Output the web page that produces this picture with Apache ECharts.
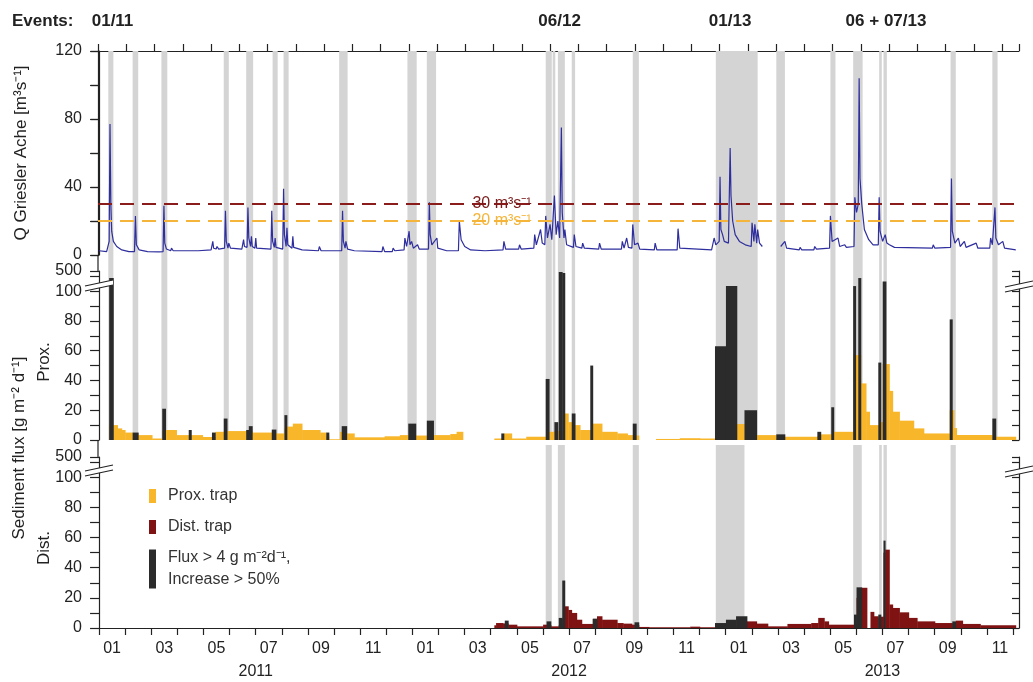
<!DOCTYPE html>
<html>
<head>
<meta charset="utf-8">
<script src="https://cdn.jsdelivr.net/npm/echarts@6.0.0/dist/echarts.min.js"></script>
<style>
html, body { margin: 0; padding: 0; background: #fff; }
#chart { width: 1033px; height: 682px; }
</style>
</head>
<body>
<div id="chart"></div>
<script>
var FONT = '"Liberation Sans", Arial, sans-serif';
var INK = '#222';
var BAND = '#d4d4d4';
var BLUE = '#2e2e9e';
var YELLOW = '#f8b62b';
var DRED = '#7f1212';
var BLACK = '#2b2b2b';
var FLUX_NAME = 'Flux > 4 g m\u207B\u00B2d\u207B\u00B9,\nIncrease > 50%';

// grey event periods (Q and Prox. panels)
var bandStart = ['2011-01-12', '2011-02-09', '2011-03-13', '2011-05-25', '2011-06-20', '2011-07-21', '2011-08-03', '2011-10-07',
    '2011-12-26', '2012-01-18', '2012-06-04', '2012-06-12', '2012-06-18', '2012-07-04', '2012-09-14', '2012-12-20',
    '2013-02-27', '2013-05-01', '2013-05-28', '2013-06-27', '2013-07-02', '2013-09-19', '2013-11-07'];
var bandEnd = ['2011-01-18', '2011-02-15', '2011-03-20', '2011-05-31', '2011-06-28', '2011-07-27', '2011-08-09', '2011-10-17',
    '2012-01-06', '2012-01-29', '2012-06-11', '2012-06-15', '2012-06-26', '2012-07-08', '2012-09-21', '2013-02-07',
    '2013-03-09', '2013-05-07', '2013-06-08', '2013-06-30', '2013-07-06', '2013-09-25', '2013-11-13'];
// grey event periods (Dist. panel)
var distBandStart = ['2012-06-04', '2012-06-18', '2012-09-14', '2012-12-20', '2013-05-28', '2013-06-27', '2013-07-02', '2013-09-19'];
var distBandEnd = ['2012-06-11', '2012-06-26', '2012-09-21', '2013-01-23', '2013-06-07', '2013-06-30', '2013-07-06', '2013-09-25'];

// discharge Griesler Ache [m3/s]
var qDates = ['2011-01-01', '2011-01-10', '2011-01-13', '2011-01-14', '2011-01-15', '2011-01-16', '2011-01-18', '2011-01-22', '2011-01-28',
    '2011-02-05', '2011-02-11', '2011-02-12', '2011-02-13', '2011-02-16', '2011-02-25', '2011-03-10', '2011-03-15', '2011-03-16',
    '2011-03-17', '2011-03-19', '2011-03-24', '2011-03-25', '2011-03-27', '2011-04-03', '2011-04-04', '2011-04-06', '2011-04-25',
    '2011-05-10', '2011-05-12', '2011-05-13', '2011-05-16', '2011-05-17', '2011-05-19', '2011-05-26', '2011-05-27', '2011-05-28',
    '2011-05-30', '2011-05-31', '2011-06-02', '2011-06-15', '2011-06-17', '2011-06-18', '2011-06-21', '2011-06-22', '2011-06-23',
    '2011-06-25', '2011-06-26', '2011-06-27', '2011-06-30', '2011-07-01', '2011-07-02', '2011-07-19', '2011-07-20', '2011-07-21',
    '2011-07-23', '2011-07-24', '2011-07-25', '2011-08-02', '2011-08-03', '2011-08-04', '2011-08-06', '2011-08-07', '2011-08-08',
    '2011-08-13', '2011-08-14', '2011-08-15', '2011-08-25', '2011-09-13', '2011-09-14', '2011-09-16', '2011-10-10', '2011-10-11',
    '2011-10-12', '2011-10-14', '2011-10-15', '2011-10-17', '2011-10-25', '2011-11-26', '2011-11-27', '2011-11-29', '2011-12-08',
    '2011-12-09', '2011-12-11', '2011-12-22', '2011-12-23', '2011-12-25', '2011-12-28', '2011-12-29', '2011-12-31', '2012-01-02',
    '2012-01-07', '2012-01-09', '2012-01-20', '2012-01-21', '2012-01-22', '2012-01-24', '2012-01-30', '2012-01-31', '2012-02-10',
    '2012-02-23', '2012-02-24', '2012-02-26', '2012-03-01', '2012-03-08', '2012-03-25', '2012-04-15', '2012-04-16', '2012-04-18',
    '2012-05-03', '2012-05-04', '2012-05-06', '2012-05-21', '2012-05-22', '2012-05-24', '2012-05-29', '2012-05-31', '2012-06-03',
    '2012-06-04', '2012-06-06', '2012-06-09', '2012-06-11', '2012-06-14', '2012-06-16', '2012-06-18', '2012-06-20', '2012-06-22',
    '2012-06-23', '2012-06-25', '2012-06-26', '2012-06-28', '2012-07-06', '2012-07-07', '2012-07-09', '2012-07-16', '2012-07-17',
    '2012-07-19', '2012-08-05', '2012-08-06', '2012-08-08', '2012-09-01', '2012-09-02', '2012-09-04', '2012-09-07', '2012-09-09',
    '2012-09-13', '2012-09-14', '2012-09-16', '2012-09-20', '2012-09-22', '2012-10-09', '2012-10-10', '2012-10-12', '2012-11-05',
    '2012-11-06', '2012-11-08', '2012-12-15', '2012-12-18', '2012-12-20', '2012-12-24', '2012-12-25', '2012-12-26', '2012-12-28',
    '2012-12-30', '2013-01-04', '2013-01-06', '2013-01-07', '2013-01-09', '2013-01-12', '2013-01-17', '2013-01-24', '2013-01-31',
    '2013-02-01', '2013-02-03', '2013-02-04', '2013-02-06', '2013-02-07', '2013-02-09', '2013-02-12', '2013-02-13', '2013-03-04',
    '2013-03-06', '2013-03-09', '2013-03-11', '2013-03-26', '2013-03-27', '2013-03-29', '2013-04-12', '2013-04-13', '2013-04-15',
    '2013-04-30', '2013-05-01', '2013-05-03', '2013-05-10', '2013-05-12', '2013-05-18', '2013-05-20', '2013-05-29', '2013-05-30',
    '2013-06-01', '2013-06-03', '2013-06-04', '2013-06-05', '2013-06-07', '2013-06-10', '2013-06-15', '2013-06-20', '2013-06-26',
    '2013-06-27', '2013-06-28', '2013-06-29', '2013-07-01', '2013-07-04', '2013-07-06', '2013-07-09', '2013-07-15', '2013-08-29',
    '2013-08-30', '2013-09-01', '2013-09-19', '2013-09-20', '2013-09-21', '2013-09-24', '2013-09-28', '2013-09-30', '2013-10-05',
    '2013-10-07', '2013-10-19', '2013-10-21', '2013-11-04', '2013-11-05', '2013-11-07', '2013-11-10', '2013-11-11', '2013-11-14',
    '2013-11-19', '2013-11-21', '2013-12-04'];
var qValues = [2.5, 2, 8, 77, 30, 14, 8, 5, 3,
    2, 2, 23, 6, 3, 2, 1.8, 2, 29,
    7, 3.5, 2.5, 4, 2.5, 2.5, 3.5, 2.5, 2.5,
    3, 8, 4, 3.5, 5, 3.5, 4, 26, 8,
    4, 7, 4, 3.5, 9, 5, 4.5, 28, 10,
    5, 11, 5, 4, 10, 4, 3.5, 26, 8,
    4.5, 10, 4.5, 3.5, 39, 12, 5, 16, 6,
    4, 11, 4.5, 3, 2.5, 5, 2.5, 2.5, 26,
    8, 4, 8, 3.5, 2.5, 2, 5, 2, 2,
    4, 2.5, 3, 10, 5, 14, 6, 8, 4,
    6, 3.5, 3.5, 31, 12, 6, 10, 4, 2.5,
    2.5, 20, 9, 5, 3, 2.5, 3, 8, 3.5,
    3.5, 6, 3.5, 4, 12, 6, 15, 7, 6,
    23, 10, 18, 9, 35, 12, 20, 10, 75,
    25, 10, 15, 6, 4.5, 12, 5, 4, 7,
    4, 3.5, 7, 3.5, 3.5, 8, 4, 10, 4.5,
    4, 18, 6, 7, 3.5, 3, 7, 3, 3,
    15.5, 4, 3, 10, 6, 8, 46, 15, 12,
    8, 7, 63, 35, 20, 12, 8, 6, 5,
    19, 8, 18, 7, 15, 7, 5, null, 5,
    4, 8, 4, 3, 4.5, 3, 3, 5, 3.5,
    4, 23, 8, 10, 5, 6, 4.5, 5, 34,
    25, 30, 104, 45, 30, 15, 9, 6, 6,
    34, 14, 12, 8, 12, 7, 6, 4.5, 4,
    6, 4, 4.5, 45, 14, 7, 10, 5, 8,
    4.5, 7, 4, 4, 10, 6, 28, 10, 6,
    8, 4, 3];
var qThresholds = [30, 20];
var qThresholdLabels = ['30 m\u00B3s\u207B\u00B9', '20 m\u00B3s\u207B\u00B9'];

// sediment flux, proximal trap [g m-2 d-1]: value holds from date i to date i+1
var proxDates = ['2011-01-13', '2011-01-18', '2011-01-23', '2011-01-28', '2011-02-01', '2011-02-09', '2011-02-15', '2011-03-02',
    '2011-03-14', '2011-03-18', '2011-03-31', '2011-04-14', '2011-04-17', '2011-04-30', '2011-05-11', '2011-05-15', '2011-05-25',
    '2011-05-29', '2011-06-20', '2011-06-23', '2011-06-27', '2011-07-20', '2011-07-25', '2011-08-04', '2011-08-07', '2011-08-14',
    '2011-08-25', '2011-09-15', '2011-09-22', '2011-09-25', '2011-10-08', '2011-10-10', '2011-10-16', '2011-10-25', '2011-11-29',
    '2011-12-17', '2011-12-27', '2012-01-05', '2012-01-18', '2012-01-26', '2012-02-14', '2012-02-21', '2012-02-28', '2012-04-05',
    '2012-04-13', '2012-04-16', '2012-04-25', '2012-05-12', '2012-06-04', '2012-06-08', '2012-06-14', '2012-06-18', '2012-06-26',
    '2012-06-30', '2012-07-04', '2012-07-08', '2012-07-14', '2012-07-26', '2012-07-29', '2012-08-09', '2012-08-27', '2012-09-08',
    '2012-09-14', '2012-09-18', '2012-09-21', '2012-10-11', '2012-11-08', '2012-12-01', '2012-12-19', '2013-01-01', '2013-01-14',
    '2013-01-23', '2013-02-06', '2013-02-27', '2013-03-09', '2013-04-16', '2013-04-20', '2013-05-02', '2013-05-05', '2013-05-28',
    '2013-06-03', '2013-06-06', '2013-06-12', '2013-06-16', '2013-06-26', '2013-06-29', '2013-07-01', '2013-07-05', '2013-07-09',
    '2013-07-13', '2013-07-21', '2013-08-07', '2013-08-19', '2013-09-18', '2013-09-21', '2013-09-23', '2013-09-26', '2013-11-07',
    '2013-11-11', '2013-12-04'];
var proxFlux = [10, 10, 7.8, 6.7, 5, 4.5, 3.3, 1,
    6, 6.7, 3.3, 3.3, 3.3, 2, 2, 5.5, 5.5,
    6, 6, 6, 5, 5, 4.4, 8, 9, 11,
    6.7, 5, 3, 0.5, 5.5, 5, 4.4, 1.8, 2.5,
    3.3, 3, 3, 3, 3.3, 4, 5.5, null, 1,
    1, 4.4, 1, 2.2, 2.2, 5.5, 6, 6, 17.8,
    12, 10, 10, 6.7, 6.7, 11, 5.5, 4.4, 3.3,
    3.3, 3, null, 0.7, 1.2, 1, 1, 10, 10.7,
    3, 3.3, 2, 2.2, 2.5, 3.8, 4, 5.5, 57,
    57, 38, 19, 10, 10, 12, 51, 51, 33,
    19, 13, 7.8, 4.4, 20, 20, 8, 3.3, 2.2,
    2.2, null];
var proxEvStart = ['2011-01-13', '2011-02-09', '2011-03-14', '2011-04-14', '2011-05-11', '2011-05-25', '2011-06-20', '2011-06-23',
    '2011-07-20', '2011-08-04', '2011-09-22', '2011-10-10', '2011-12-27', '2012-01-18', '2012-04-13', '2012-06-04', '2012-06-14',
    '2012-06-19', '2012-06-23', '2012-07-04', '2012-07-26', '2012-09-14', '2012-12-19', '2013-01-01', '2013-01-23', '2013-02-27',
    '2013-04-16', '2013-05-02', '2013-05-28', '2013-06-03', '2013-06-26', '2013-07-01', '2013-09-18', '2013-11-07'];
var proxEvEnd = ['2011-01-18', '2011-02-15', '2011-03-18', '2011-04-17', '2011-05-15', '2011-05-29', '2011-06-23', '2011-06-27',
    '2011-07-25', '2011-08-07', '2011-09-25', '2011-10-16', '2012-01-05', '2012-01-26', '2012-04-16', '2012-06-08', '2012-06-18',
    '2012-06-23', '2012-06-26', '2012-07-08', '2012-07-29', '2012-09-18', '2013-01-01', '2013-01-14', '2013-02-06', '2013-03-09',
    '2013-04-20', '2013-05-05', '2013-05-31', '2013-06-06', '2013-06-29', '2013-07-05', '2013-09-21', '2013-11-11'];
var proxEvFlux = [360, 5, 21, 6.7, 5, 14.4, 6.7, 9.3,
    7, 16.7, 5, 9.3, 11, 13, 4.4, 41, 12,
    480, 460, 17.8, 50, 11, 63, 200, 20, 3.8,
    5.5, 22, 200, 360, 52, 290, 81, 14.4];

// sediment flux, distal trap [g m-2 d-1]
var distDates = ['2012-04-05', '2012-04-07', '2012-04-15', '2012-04-17', '2012-04-21', '2012-05-01', '2012-06-01', '2012-06-05',
    '2012-06-10', '2012-06-19', '2012-06-23', '2012-06-26', '2012-06-30', '2012-07-04', '2012-07-10', '2012-07-16', '2012-07-29',
    '2012-08-03', '2012-08-09', '2012-08-27', '2012-09-03', '2012-09-13', '2012-09-16', '2012-09-21', '2012-10-03', '2012-11-20',
    '2012-12-01', '2012-12-19', '2013-01-01', '2013-01-13', '2013-01-26', '2013-02-06', '2013-02-18', '2013-03-12', '2013-04-09',
    '2013-04-17', '2013-04-24', '2013-04-29', '2013-05-29', '2013-06-01', '2013-06-07', '2013-06-13', '2013-06-17', '2013-06-21',
    '2013-06-26', '2013-06-29', '2013-07-02', '2013-07-04', '2013-07-09', '2013-07-13', '2013-07-21', '2013-08-01', '2013-08-11',
    '2013-09-01', '2013-09-21', '2013-09-25', '2013-10-03', '2013-10-24', '2013-12-04'];
var distFlux = [1.8, 3.3, 3, 3, 2.2, 1.1, 2.2, 2,
    1.1, 2, 6, 14.4, 12, 10, 5.5, 2.7, 6,
    7.8, 5.5, 3.3, 2.9, 2.2, 2, 0.7, 0.5, 0.9,
    0.5, 1, 1, 1, 4.4, 2.9, 1.1, 2.7, 3.3,
    6.7, 4.4, 2.2, 3, 20, 26.7, null, 10.7, 7.8,
    7, 7.5, 50, 52, 15.6, 13.3, 10.4, 6.7, 4.4,
    3.3, 3, 4.9, 2.7, 1.8, null];
var distEvStart = ['2012-04-17', '2012-06-05', '2012-06-19', '2012-06-23', '2012-07-29', '2012-09-16', '2012-12-19', '2013-01-01',
    '2013-01-13', '2013-05-29', '2013-06-01', '2013-06-26', '2013-07-02', '2013-09-21'];
var distEvEnd = ['2012-04-21', '2012-06-10', '2012-06-23', '2012-06-26', '2012-08-03', '2012-09-21', '2013-01-01', '2013-01-13',
    '2013-01-26', '2013-06-01', '2013-06-07', '2013-06-29', '2013-07-04', '2013-09-25'];
var distEvFlux = [4.9, 4.4, 6.7, 31.5, 6.2, 3.8, 3.3, 5.5,
    7.8, 8.9, 27, 8.9, 58, 4.4];

var monthNames = ['01', '02', '03', '04', '05', '06', '07', '08', '09', '10', '11', '12'];
var yearLabels = { 6: '2011', 18: '2012', 30: '2013' };
var eventLabels = ['01/11', '06/12', '01/13', '06 + 07/13'];
var eventLabelDates = ['2011-01-17', '2012-06-20', '2013-01-06', '2013-07-05'];

// month index since Jan 2011 (fractional)
function toM(s) {
    var p = s.split('-');
    var y = +p[0], mo = +p[1], d = +p[2];
    var dim = new Date(y, mo, 0).getDate();
    return (y - 2011) * 12 + (mo - 1) + (d - 1) / dim;
}

// broken flux axis: linear to 100, 100..500 squeezed on top
function brk(v) {
    return v <= 100 ? v : 100 + (v - 100) * 13.5 / 400;
}

var monthCats = [];
for (var i = 0; i < 35; i++) monthCats.push(monthNames[i % 12]);

var qData = qDates.map(function (d, i) {
    return [toM(d), qValues[i] == null ? '-' : qValues[i]];
});

function steps(dates, vals) {
    var out = [];
    for (var i = 0; i < dates.length - 1; i++) {
        if (vals[i] == null) continue;
        out.push([toM(dates[i]), toM(dates[i + 1]), brk(vals[i])]);
    }
    return out;
}
function bars(s, e, v) {
    return s.map(function (d, i) { return [toM(d), toM(e[i]), brk(v[i])]; });
}
function bands(s, e) {
    return s.map(function (d, i) { return [toM(d), toM(e[i])]; });
}

function barItem(params, api) {
    var a = api.coord([api.value(0), api.value(2)]);
    var b = api.coord([api.value(1), 0]);
    return {
        type: 'rect',
        shape: { x: a[0], y: a[1], width: b[0] - a[0] + 0.4, height: b[1] - a[1] },
        style: { fill: api.visual('color') }
    };
}
function bandRenderer(extendTop) {
    return function (params, api) {
        var x0 = api.coord([api.value(0), 0])[0];
        var x1 = api.coord([api.value(1), 0])[0];
        var cs = params.coordSys;
        return {
            type: 'rect',
            shape: { x: x0, y: cs.y - extendTop, width: x1 - x0, height: cs.height + extendTop },
            style: { fill: BAND }
        };
    };
}

var XMIN = -0.04, XMAX = 35.22;
var axisLineStyle = { color: INK, width: 1.2 };

function dataX(grid, showLine) {
    return {
        type: 'value', gridIndex: grid, min: XMIN, max: XMAX, show: !!showLine,
        axisLine: { show: !!showLine, onZero: false, lineStyle: axisLineStyle },
        axisTick: { show: false }, axisLabel: { show: false }, splitLine: { show: false }
    };
}
function fluxY(grid, right) {
    return {
        type: 'value', gridIndex: grid, min: 0, max: 113.5, interval: 10,
        position: right ? 'right' : 'left',
        axisLine: { show: true, lineStyle: axisLineStyle },
        axisTick: { show: true, inside: !!right, length: right ? 7 : 9, lineStyle: axisLineStyle },
        axisLabel: {
            show: !right, margin: 16, color: INK, fontSize: 16, fontFamily: FONT,
            formatter: function (v) {
                if (v > 112) return '500';
                return (v <= 100 && v % 20 === 0) ? String(v) : '';
            }
        },
        splitLine: { show: false }
    };
}

var dom = document.getElementById('chart');
var myChart = echarts.init(dom, null, { renderer: 'canvas' });

var option = {
    animation: false,
    backgroundColor: '#fff',
    grid: [
        { left: 98, right: 14, top: 51, height: 204 },
        { left: 98, right: 14, top: 271, height: 169 },
        { left: 98, right: 14, top: 457, height: 171 },
        { left: 99, right: 20, top: 457, height: 171 }
    ],
    xAxis: [
        dataX(0, false),
        {
            type: 'value', gridIndex: 0, position: 'top', min: 0, max: 32.6, interval: 1,
            axisLine: { show: true, onZero: false, lineStyle: axisLineStyle },
            axisTick: { show: true, length: 7, lineStyle: axisLineStyle },
            axisLabel: { show: false }, splitLine: { show: false }
        },
        dataX(1, false),
        dataX(2, true),
        {
            type: 'category', gridIndex: 3, position: 'bottom', data: monthCats, boundaryGap: true,
            axisLine: { show: false, onZero: false },
            axisTick: { show: true, interval: 0, length: 7, lineStyle: axisLineStyle },
            axisLabel: { interval: 1, margin: 13, color: INK, fontSize: 16, fontFamily: FONT },
            splitLine: { show: false }
        },
        {
            type: 'value', gridIndex: 3, position: 'bottom', offset: 24, min: 0, max: 35, interval: 6,
            axisLine: { show: false, onZero: false }, axisTick: { show: false }, splitLine: { show: false },
            axisLabel: {
                margin: 12, color: INK, fontSize: 16, fontFamily: FONT,
                formatter: function (v) { return yearLabels[v] || ''; }
            }
        }
    ],
    yAxis: [
        {
            type: 'value', gridIndex: 0, min: 0, max: 120, interval: 20,
            axisLine: { show: true, lineStyle: axisLineStyle },
            axisTick: { show: true, length: 9, lineStyle: axisLineStyle },
            axisLabel: {
                margin: 16, color: INK, fontSize: 16, fontFamily: FONT,
                formatter: function (v) { return v % 40 === 0 ? String(v) : ''; }
            },
            splitLine: { show: false }
        },
        {
            type: 'value', gridIndex: 0, position: 'right', min: 0, max: 120, interval: 20,
            axisLine: { show: true, lineStyle: axisLineStyle },
            axisTick: { show: true, inside: true, length: 7, lineStyle: axisLineStyle },
            axisLabel: { show: false }, splitLine: { show: false }
        },
        fluxY(1, false),
        fluxY(1, true),
        fluxY(2, false),
        fluxY(2, true),
        { type: 'value', gridIndex: 3, show: false, min: 0, max: 1 }
    ],
    legend: [
        {
            data: ['Prox. trap', 'Dist. trap'], orient: 'vertical', left: 144, top: 483,
            itemWidth: 7, itemHeight: 14, itemGap: 15, icon: 'rect', selectedMode: false,
            textStyle: { color: '#333', fontSize: 16, fontFamily: FONT, padding: [0, 0, 0, 7] }
        },
        {
            data: [FLUX_NAME], orient: 'vertical', left: 144, top: 542,
            itemWidth: 7, itemHeight: 39, icon: 'rect', selectedMode: false,
            textStyle: { color: '#333', fontSize: 16, lineHeight: 22, fontFamily: FONT, padding: [0, 0, 0, 7] }
        }
    ],
    series: [
        {
            type: 'custom', name: 'bandsQ', xAxisIndex: 0, yAxisIndex: 0, z: 1, silent: true,
            renderItem: bandRenderer(0), data: bands(bandStart, bandEnd)
        },
        {
            type: 'line', name: 'Q', xAxisIndex: 0, yAxisIndex: 0, z: 4,
            data: qData, showSymbol: false, connectNulls: false,
            lineStyle: { color: BLUE, width: 1.2 }, itemStyle: { color: BLUE },
            markLine: {
                silent: true, symbol: 'none', label: { show: false },
                lineStyle: { type: [14, 8], width: 2 },
                data: [
                    { yAxis: qThresholds[0], lineStyle: { color: '#8b1c1c', type: [14, 8], width: 2 } },
                    { yAxis: qThresholds[1], lineStyle: { color: '#f5b53a', type: [14, 8], width: 2 } }
                ]
            },
            markPoint: {
                silent: true, symbol: 'circle', symbolSize: 0,
                data: [
                    { coord: [15.43, qThresholds[0]], name: qThresholdLabels[0],
                      label: { show: true, position: 'inside', formatter: '{b}', color: '#7a1a1a', fontSize: 16, fontFamily: FONT } },
                    { coord: [15.43, qThresholds[1]], name: qThresholdLabels[1],
                      label: { show: true, position: 'inside', formatter: '{b}', color: '#f5b53a', fontSize: 16, fontFamily: FONT } }
                ]
            }
        },
        {
            type: 'custom', name: 'bandsProx', xAxisIndex: 2, yAxisIndex: 2, z: 1, silent: true,
            renderItem: bandRenderer(16), data: bands(bandStart, bandEnd)
        },
        {
            type: 'custom', name: 'Prox. trap', xAxisIndex: 2, yAxisIndex: 2, z: 2,
            itemStyle: { color: YELLOW }, renderItem: barItem, data: steps(proxDates, proxFlux),
            encode: { x: [0, 1], y: 2 }
        },
        {
            type: 'custom', name: FLUX_NAME, xAxisIndex: 2, yAxisIndex: 2, z: 3,
            itemStyle: { color: BLACK }, renderItem: barItem, data: bars(proxEvStart, proxEvEnd, proxEvFlux),
            encode: { x: [0, 1], y: 2 }
        },
        {
            type: 'custom', name: 'bandsDist', xAxisIndex: 3, yAxisIndex: 4, z: 1, silent: true,
            renderItem: bandRenderer(12), data: bands(distBandStart, distBandEnd)
        },
        {
            type: 'custom', name: 'Dist. trap', xAxisIndex: 3, yAxisIndex: 4, z: 2,
            itemStyle: { color: DRED }, renderItem: barItem, data: steps(distDates, distFlux),
            encode: { x: [0, 1], y: 2 }
        },
        {
            type: 'custom', name: FLUX_NAME, xAxisIndex: 3, yAxisIndex: 4, z: 3,
            itemStyle: { color: BLACK }, renderItem: barItem, data: bars(distEvStart, distEvEnd, distEvFlux),
            encode: { x: [0, 1], y: 2 }
        }
    ]
};

myChart.setOption(option, true);

// axis break marks, titles and event labels
function breakMark(cx, cy) {
    return [
        { type: 'polygon', z: 50, shape: { points: [[cx - 14, cy + 4], [cx + 14, cy - 2], [cx + 14, cy + 3], [cx - 14, cy + 9]] },
          style: { fill: '#fff' } },
        { type: 'line', z: 51, shape: { x1: cx - 14, y1: cy + 4, x2: cx + 14, y2: cy - 2 }, style: { stroke: INK, lineWidth: 1.2 } },
        { type: 'line', z: 51, shape: { x1: cx - 14, y1: cy + 9, x2: cx + 14, y2: cy + 3 }, style: { stroke: INK, lineWidth: 1.2 } }
    ];
}

var gfx = [];
gfx = gfx.concat(breakMark(99, 282), breakMark(1019, 283), breakMark(99, 467), breakMark(1019, 468));
gfx.push(
    { type: 'line', z: 40, shape: { x1: 98, y1: 255, x2: 98, y2: 271 }, style: { stroke: INK, lineWidth: 1.2 } },
    { type: 'line', z: 40, shape: { x1: 98, y1: 440, x2: 98, y2: 457 }, style: { stroke: INK, lineWidth: 1.2 } },
    { type: 'text', x: 21, y: 153, rotation: Math.PI / 2,
      style: { text: 'Q Griesler Ache [m\u00B3s\u207B\u00B9]', fontSize: 17, fontFamily: FONT, fill: INK, align: 'center', verticalAlign: 'middle' } },
    { type: 'text', x: 19, y: 448, rotation: Math.PI / 2,
      style: { text: 'Sediment flux [g m\u207B\u00B2 d\u207B\u00B9]', fontSize: 17, fontFamily: FONT, fill: INK, align: 'center', verticalAlign: 'middle' } },
    { type: 'text', x: 44, y: 362, rotation: Math.PI / 2,
      style: { text: 'Prox.', fontSize: 17, fontFamily: FONT, fill: INK, align: 'center', verticalAlign: 'middle' } },
    { type: 'text', x: 44, y: 548, rotation: Math.PI / 2,
      style: { text: 'Dist.', fontSize: 17, fontFamily: FONT, fill: INK, align: 'center', verticalAlign: 'middle' } },
    { type: 'text', x: 12, y: 21,
      style: { text: 'Events:', fontSize: 17, fontWeight: 'bold', fontFamily: FONT, fill: INK, align: 'left', verticalAlign: 'middle' } }
);
eventLabels.forEach(function (t, i) {
    var px = myChart.convertToPixel({ xAxisIndex: 0 }, toM(eventLabelDates[i]));
    gfx.push({ type: 'text', x: px, y: 21,
        style: { text: t, fontSize: 17, fontWeight: 'bold', fontFamily: FONT, fill: INK, align: 'center', verticalAlign: 'middle' } });
});
myChart.setOption({ graphic: gfx });
</script>
</body>
</html>
